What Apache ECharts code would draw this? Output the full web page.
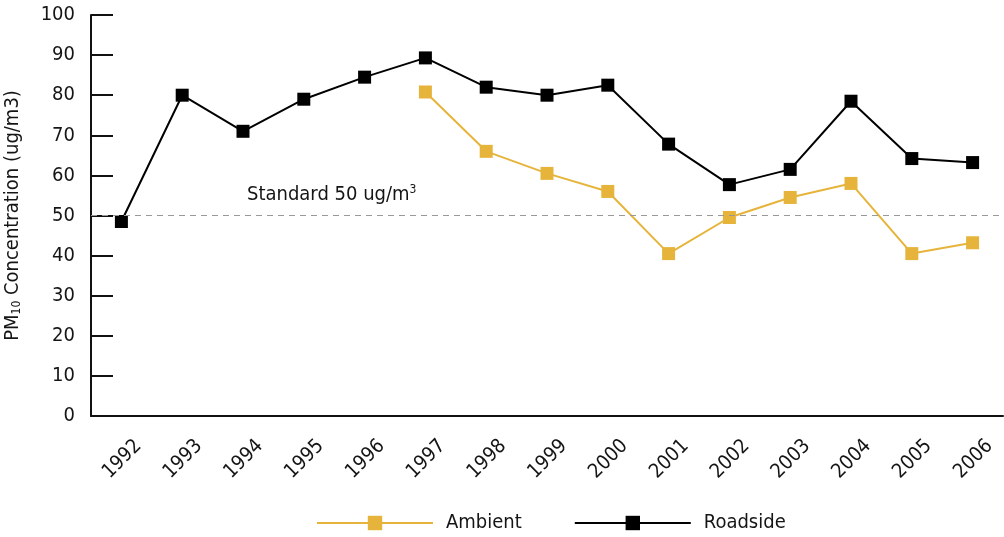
<!DOCTYPE html>
<html><head><meta charset="utf-8">
<script src="https://cdn.jsdelivr.net/npm/echarts@6/dist/echarts.min.js"></script>
<style>html,body{margin:0;padding:0;background:#fff}#c{width:1004px;height:537px}</style>
</head><body><div id="c"></div>
<script>
const years = ['1992','1993','1994','1995','1996','1997','1998','1999','2000','2001','2002','2003','2004','2005','2006'];
const ambient = [null,null,null,null,null,80.8,66,60.5,56,40.5,49.5,54.5,58,40.5,43.2];
const roadside = [48.5,80,71,79,84.5,89.3,82,80,82.5,67.8,57.7,61.5,78.5,64.2,63.2];
const standardValue = 50;
const yTicks = {min:0, max:100, interval:10};

const FONT = '"Liberation Sans Narrow","DejaVu Sans Condensed","Roboto",sans-serif';
const TXT = '#151515';
const chart = echarts.init(document.getElementById('c'));
chart.setOption({
  animation:false,
  textStyle:{fontFamily:FONT},
  grid:{left:91,right:1,top:15,bottom:121,outerBoundsMode:'none',containLabel:false},
  legend:{
    bottom:4,left:316,padding:0,itemWidth:116,itemHeight:18,itemGap:52,
    textStyle:{fontFamily:FONT,fontSize:20,color:TXT,padding:[0,0,0,8]},
    data:['Ambient','Roadside']
  },
  xAxis:{
    type:'category',data:years,boundaryGap:true,
    axisLine:{lineStyle:{color:'#111',width:2}},
    axisTick:{inside:true,length:8,lineStyle:{color:'#111',width:2}},
    axisLabel:{rotate:45,interval:0,color:TXT,fontFamily:FONT,margin:10,
      formatter:function(v){return '{e| }\n{t|'+v+'}';},
      rich:{e:{fontSize:10,lineHeight:48},t:{fontSize:20,lineHeight:24,color:TXT,fontFamily:FONT}}}
  },
  yAxis:{
    type:'value',min:yTicks.min,max:yTicks.max,interval:yTicks.interval,
    name:'{a|PM}{s|10}{a| Concentration (ug/m3)}',nameLocation:'middle',nameGap:68,nameRotate:90,nameMoveOverlap:false,
    nameTextStyle:{rich:{a:{fontSize:20,color:TXT,fontFamily:FONT},s:{fontSize:12,color:TXT,fontFamily:FONT,verticalAlign:'bottom',padding:[8,0,0,0]}}},
    axisLine:{show:true,lineStyle:{color:'#111',width:2}},
    axisTick:{show:true,inside:true,length:22,lineStyle:{color:'#111',width:2}},
    splitLine:{show:false},
    axisLabel:{fontSize:20,color:TXT,fontFamily:FONT,margin:16}
  },
  series:[
    {name:'Ambient',type:'line',data:ambient,connectNulls:false,
     symbol:'rect',symbolSize:13,
     itemStyle:{color:'#E6B43A'},lineStyle:{color:'#E6B43A',width:2}},
    {name:'Roadside',type:'line',data:roadside,
     symbol:'rect',symbolSize:13,
     itemStyle:{color:'#000'},lineStyle:{color:'#000',width:2},
     markLine:{silent:true,symbol:['none','none'],
       lineStyle:{color:'#999',type:[6,5],width:1.2},
       label:{show:true,position:'insideStartTop',distance:[156,10],
         formatter:'{a|Standard 50 ug/m}{s|3}',
         rich:{a:{fontSize:20,color:TXT,fontFamily:FONT},s:{fontSize:12,color:TXT,fontFamily:FONT,verticalAlign:'top',padding:[0,0,10,0]}}},
       data:[{yAxis:standardValue}]}}
  ]
});
</script></body></html>
